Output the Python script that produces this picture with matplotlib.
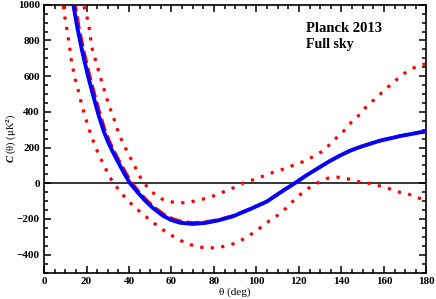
import matplotlib
matplotlib.use('Agg')
import matplotlib.pyplot as plt
from matplotlib.ticker import MultipleLocator

plt.rcParams['font.family'] = 'Liberation Serif'
plt.rcParams['font.weight'] = 'bold'
plt.rcParams['mathtext.fontset'] = 'custom'
plt.rcParams['mathtext.rm'] = 'Liberation Serif:bold'
plt.rcParams['mathtext.it'] = 'Liberation Serif:bold:italic'
plt.rcParams['mathtext.bf'] = 'Liberation Serif:bold'

# Best-fit correlation function (blue solid)
theta_fit = [12, 13.8, 15.7, 17.7, 19.1, 21.2, 23.3, 25.6, 28, 30, 32.2, 34, 35.8, 38, 40.5,
             44, 47.5, 51.1, 56, 60, 64, 70, 76, 82, 89, 97, 104.8, 112.6, 118, 123.6,
             130, 134.6, 139.3, 144, 148.7, 158, 167.5, 176.9, 180]
c_fit = [1130, 1000, 870, 755, 680, 578, 485, 385, 295, 235, 180, 138, 98, 50, 0,
         -50, -96, -137, -182, -206, -221, -228, -222, -208, -185, -145, -103, -41, 0, 45,
         92, 125, 155, 182, 203, 238, 264, 285, 290]

# Data (red dashed), mostly hidden under the fit
theta_data = [12.8, 14.6, 16.5, 18.5, 19.9, 22, 24.1, 26.4, 28.8, 30.8, 33, 34.8, 36.7, 38.9,
              41.4, 44.9, 48.4, 52, 56.8, 60.6, 64.4, 70, 76, 82, 89, 97, 104.8, 112.6,
              118, 123.6, 130, 134.6, 139.3, 144, 148.7, 158, 167.5, 176.9, 180]
c_data = [1130, 1000, 870, 755, 680, 578, 485, 385, 295, 235, 180, 138, 98, 50,
          0, -50, -96, -135, -177, -199, -213, -221, -217, -204, -182, -143, -102, -40,
          0, 45, 92, 125, 155, 182, 204, 239, 265, 286, 291]

# Upper envelope (red dotted)
theta_up = [18.8, 20.1, 21.2, 22.4, 25.1, 27.9, 30.6, 32.5, 35.4, 39.9, 42, 46.4, 49.6,
            53.3, 57.4, 62.4, 67.1, 71.8, 76.6, 81.3, 85.6, 90.4, 94.6, 99.3, 103.7,
            108.2, 112.9, 117.6, 122, 126.4, 130.7, 134.3, 137.7, 141.3, 144.5, 147.9,
            151.2, 154.7, 158.3, 162, 165.6, 169.4, 173.5, 177.9, 180]
c_up = [991, 937, 877, 765, 653, 541, 433, 377, 270, 159, 112, 9, -34,
        -75, -99, -109, -109, -97, -84, -64, -43, -19, 6, 22, 43,
        63, 80, 102, 121, 148, 177, 215, 255, 295, 340, 377,
        422, 461, 500, 540, 577, 614, 644, 664, 670]

# Lower envelope (red dotted)
theta_lo = [9.1, 9.7, 10.5, 11.3, 12.1, 12.6, 13.5, 14.4, 15.7, 16.9, 18, 19.4, 20.8,
            22.4, 24.2, 26, 28.2, 30.3, 32.8, 35.8, 38.9, 42.4, 46, 49.9, 53.8, 57.7,
            61.8, 66, 70.7, 75.4, 80.3, 85.2, 89.9, 94.3, 98.2, 102.1, 106, 110, 113.9,
            117.3, 120.9, 124.8, 128.9, 133.5, 138.2, 143.4, 148.1, 152.8, 157.3, 162,
            166.4, 171.1, 175.8, 180]
c_lo = [993, 937, 881, 821, 762, 706, 652, 594, 538, 482, 429, 373, 317,
        261, 205, 153, 103, 47, 0, -46, -90, -131, -168, -206, -241, -275,
        -305, -331, -351, -361, -362, -353, -336, -310, -280, -247, -211, -179, -140,
        -99, -60, -25, 3, 28, 34, 24, 9, 0, -13, -28,
        -48, -58, -81, -95]

fig = plt.figure(figsize=(4.36, 2.99), dpi=100)
ax = fig.add_axes([0.101, 0.0886, 0.877, 0.8954])

ax.axhline(0, color='black', lw=1.1, zorder=1)
dot = (0, (1, 2.3))
ax.plot(theta_up, c_up, color='red', lw=2.3, ls=dot, zorder=2)
ax.plot(theta_lo, c_lo, color='red', lw=2.3, ls=dot, zorder=2)
ax.plot(theta_data, c_data, color='red', lw=2.3, ls=(0, (4, 1.5)), zorder=3)
ax.plot(theta_fit, c_fit, color='blue', lw=2.8, zorder=4, solid_joinstyle='round')

ax.set_xlim(0, 180)
ax.set_ylim(-500, 1000)
ax.xaxis.set_major_locator(MultipleLocator(20))
ax.xaxis.set_minor_locator(MultipleLocator(5))
ax.yaxis.set_major_locator(MultipleLocator(200))
ax.yaxis.set_minor_locator(MultipleLocator(50))
ax.tick_params(which='both', direction='in', top=True, right=True, width=1.1,
               labelsize=8, pad=3)
ax.tick_params(which='major', length=5)
ax.tick_params(which='minor', length=3)
for s in ax.spines.values():
    s.set_linewidth(1.2)

ax.set_xlabel('θ (deg)', fontsize=8, labelpad=1)
ax.set_ylabel(r'$C$ (θ) (μK$^{2}$)', fontsize=7.5)
ax.yaxis.set_label_coords(-0.068, 0.5)

ax.text(0.685, 0.935, 'Planck 2013', transform=ax.transAxes, fontsize=10.5,
        fontweight='bold', va='top', ha='left')
ax.text(0.685, 0.875, 'Full sky', transform=ax.transAxes, fontsize=10,
        fontweight='bold', va='top', ha='left')

fig.savefig('out.png', dpi=100)
